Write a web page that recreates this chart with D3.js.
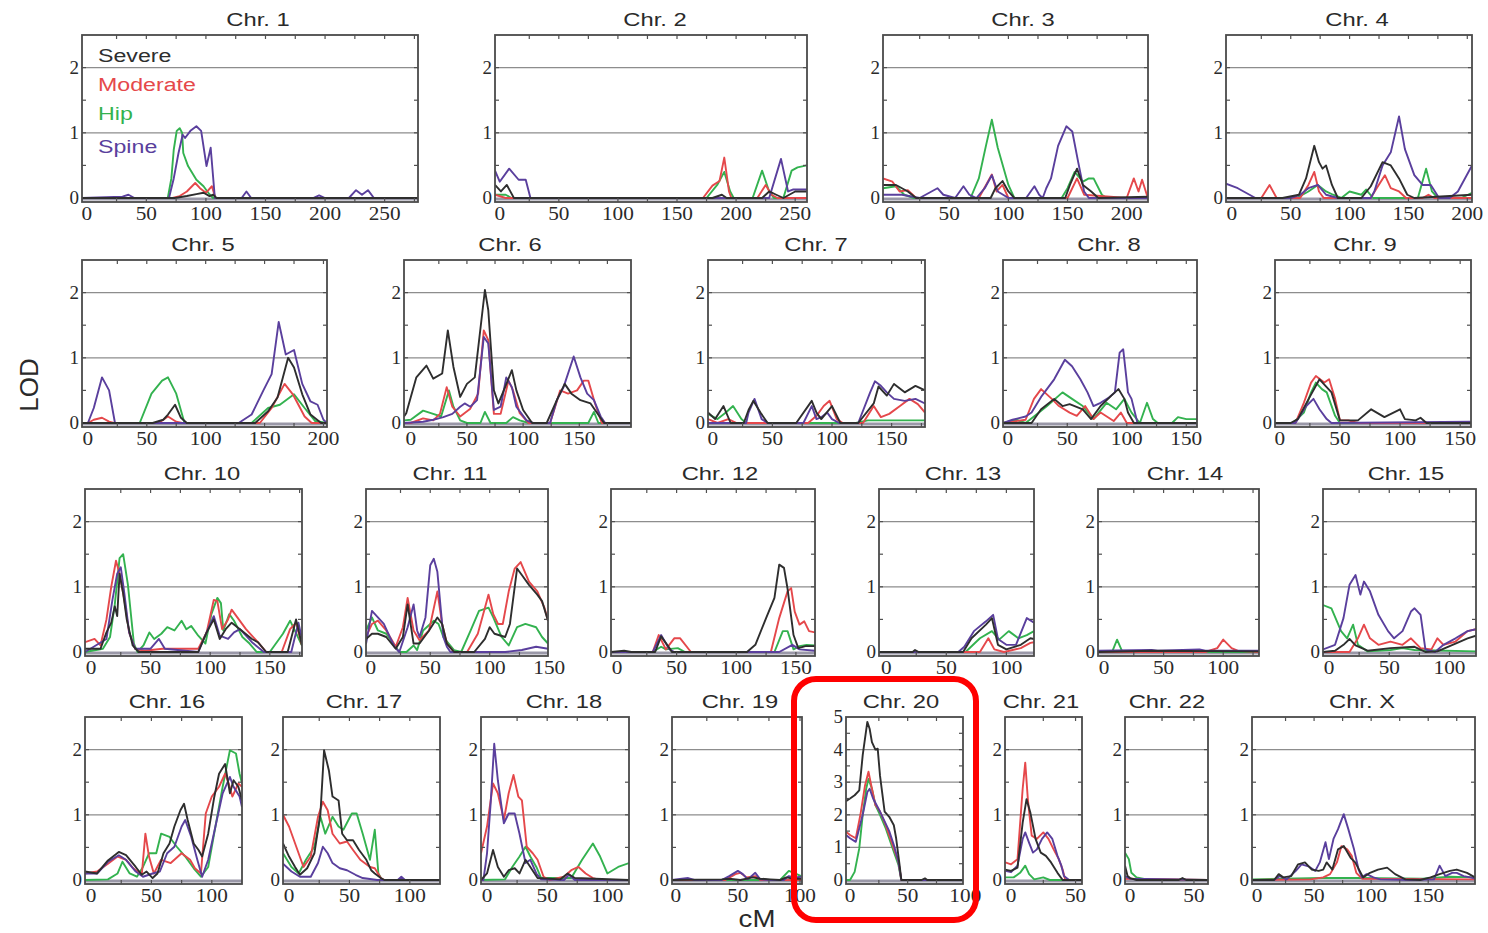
<!DOCTYPE html>
<html>
<head>
<meta charset="utf-8">
<script src="https://cdn.jsdelivr.net/npm/d3@7"></script>
<style>
  body { margin: 0; background: #fff; }
  svg { display: block; }
</style>
</head>
<body>
<div id="chart"></div>
<script>
// chromosome panels, axis extents in cM, LOD maximum of each panel
const chromosomes = ["1","2","3","4","5","6","7","8","9","10","11","12","13","14","15","16","17","18","19","20","21","22","X"];
const cmMin = [-4,-4,-6,-5,-5,-6,-4,-4,-4,-5,-4,-5,-6,-5,-5,-5,-5,-5,-3,-3.5,-4.7,-4,-4.4];
const cmMax = [278,260,218,204,203,196,178,159,159,177,149,166,123,130,122,125,125,118,101.6,98,55,61,191];
const lodMax = [2.5,2.5,2.5,2.5,2.5,2.5,2.5,2.5,2.5,2.5,2.5,2.5,2.5,2.5,2.5,2.5,2.5,2.5,2.5,5,2.5,2.5,2.5];

const seriesNames = ["Severe", "Moderate", "Hip", "Spine"];
const seriesColors = ["#2e2e2e", "#e5484b", "#33b24f", "#5a3f9d"];

// [cM, LOD] per chromosome
const severe = [
  [[-4,0],[74,0],[84,0.03],[92,0.06],[98,0.08],[103,0.03],[106,0.05],[109,0],[278,0]],
  [[-4,0.2],[1,0.1],[6,0.2],[12,0],[180,0],[188,0.05],[192,0],[222,0],[228,0.1],[234,0.05],[240,0],[250,0.1],[260,0.1]],
  [[-6,0.2],[5,0.2],[15,0.1],[22,0],[85,0],[89,0.15],[95,0.26],[100,0.1],[105,0],[148,0],[152,0.2],[158,0.45],[163,0.2],[170,0.1],[176,0],[218,0.02]],
  [[-5,0],[43,0],[57,0.05],[63,0.3],[70,0.8],[74,0.55],[77,0.45],[80,0.5],[85,0.2],[90,0],[110,0],[118,0.18],[128,0.55],[135,0.5],[142,0.3],[149,0.05],[155,0],[204,0.05]],
  [[-5,0],[55,0],[64,0.05],[68,0.13],[74,0.28],[79,0.08],[84,0],[142,0],[153,0.18],[161,0.39],[170,1.0],[175,0.85],[182,0.44],[189,0.13],[198,0],[203,0]],
  [[-6,0.1],[-4,0.15],[5,0.7],[14,0.88],[20,0.68],[28,0.76],[33,1.42],[38,0.86],[44,0.4],[50,0.6],[57,0.7],[66,2.04],[69,1.73],[74,0.5],[78,0.3],[84,0.55],[90,0.81],[94,0.5],[100,0.2],[108,0],[121,0],[130,0.35],[137,0.6],[143,0.45],[151,0.35],[160,0.3],[166,0.15],[172,0],[196,0]],
  [[-4,0.16],[2,0.06],[9,0.26],[15,0],[26,0],[30,0.2],[34,0.34],[40,0.16],[46,0],[70,0],[83,0.34],[87,0.16],[91,0.06],[100,0.26],[107,0],[122,0],[135,0.3],[139,0.56],[146,0.42],[152,0.6],[161,0.47],[170,0.57],[178,0.5]],
  [[-4,0],[20,0],[28,0.21],[39,0.37],[46,0.26],[52,0.29],[63,0.21],[70,0.06],[78,0.26],[87,0.42],[93,0.52],[98,0.37],[101,0.16],[106,0],[159,0]],
  [[-4,0],[9,0],[15,0.06],[24,0.37],[33,0.67],[38,0.57],[43,0.47],[50,0.04],[65,0.04],[76,0.21],[87,0.09],[100,0.21],[104,0.06],[113,0.04],[117,0.08],[122,0],[159,0]],
  [[-5,0.05],[8,0.05],[13,0.3],[17,0.45],[20,0.7],[22,0.55],[24,1.2],[27,0.9],[30,0.5],[35,0.1],[40,0],[90,0],[97,0.3],[103,0.5],[108,0.2],[113,0.35],[118,0.45],[125,0.35],[135,0.2],[140,0.15],[147,0],[165,0],[172,0.5],[177,0.1]],
  [[-4,0.2],[1,0.28],[6,0.28],[13,0.23],[21,0.05],[27,0.23],[31,0.73],[36,0.13],[41,0.13],[49,0.33],[56,0.53],[60,0.43],[64,0.13],[70,0],[87,0],[96,0.2],[100,0.38],[104,0.28],[113,0.23],[117,0.43],[123,1.28],[127,1.18],[133,1.03],[140,0.88],[144,0.78],[149,0.48]],
  [[-5,0],[6,0.02],[12,0],[32,0],[37,0.24],[44,0.06],[46,0],[109,0],[116,0.11],[125,0.52],[132,0.83],[136,1.34],[140,1.29],[143,0.97],[148,0.26],[152,0.06],[158,0.09],[166,0.09]],
  [[-6,0],[22,0],[24,0.03],[27,0],[64,0],[71,0.21],[83,0.42],[88,0.52],[93,0.11],[100,0.04],[112,0.11],[120,0.21],[123,0.2]],
  [[-5,0],[40,0.02],[130,0.01]],
  [[-5,0],[5,0.02],[12,0.11],[17,0.2],[22,0.1],[32,0.02],[51,0.06],[71,0.08],[80,0],[90,0.01],[105,0.13],[115,0.21],[122,0.25]],
  [[-5,0.13],[5,0.1],[14,0.3],[23,0.43],[29,0.38],[37,0.2],[42,0.08],[46,0.13],[51,0.03],[55,0.1],[60,0.41],[65,0.56],[69,0.82],[74,1.07],[77,1.17],[80,0.92],[85,0.56],[89,0.46],[92,0.36],[97,0.71],[102,1.27],[106,1.63],[111,1.78],[115,1.33],[118,1.53],[122,1.43],[125,1.22]],
  [[-5,0.56],[0,0.36],[5,0.2],[9,0.08],[15,0.18],[21,0.41],[26,1.02],[29,1.99],[33,1.68],[36,1.28],[41,1.22],[44,0.71],[48,0.61],[53,0.61],[58,0.46],[64,0.31],[68,0.15],[71,0.1],[76,0.03],[79,0],[125,0]],
  [[-5,0],[0,0.1],[5,0.46],[9,0.2],[14,0.05],[18,0.15],[23,0.18],[27,0.1],[32,0.31],[36,0.2],[42,0.03],[61,0.01],[67,0.1],[73,0.03],[118,0]],
  [[-3,0],[37,0.01],[43,0.02],[52,0],[62,0.04],[68,0.02],[76,0.01],[84,0],[89,0.04],[95,0.02],[101,0.02]],
  [[-3.5,2.42],[0,2.5],[4,2.6],[8,2.75],[11,3.83],[15,4.85],[17,4.64],[19,4.23],[22,4.0],[24,4.03],[26,3.2],[30,2.1],[34,1.94],[38,1.68],[40,1.28],[43,0.46],[44.5,0],[62,0],[65,0.05],[67,0],[98,0]],
  [[-4.5,0.16],[0,0.14],[5,0.19],[9,0.88],[12,1.24],[15,1.03],[19,0.63],[23,0.42],[27,0.37],[31,0.27],[36,0.11],[40,0],[55,0]],
  [[-4,0.22],[-2,0.06],[0,0.03],[5,0],[38,0],[41,0.03],[44,0],[61,0]],
  [[-4,0],[15,0],[19,0.09],[23,0.04],[30,0.06],[36,0.24],[42,0.27],[48,0.16],[54,0.14],[58,0.16],[61,0.27],[66,0.16],[71,0.47],[76,0.52],[82,0.34],[86,0.27],[93,0.04],[99,0.11],[106,0.16],[114,0.19],[121,0.09],[130,0.01],[143,0],[152,0.04],[160,0.09],[169,0.14],[175,0.16],[184,0.11],[191,0.04]]
];

const moderate = [
  [[-4,0],[72,0],[78,0.03],[84,0.1],[91,0.23],[95,0.15],[100,0.08],[105,0.18],[108,0],[278,0]],
  [[-4,0.05],[5,0],[172,0],[180,0.19],[186,0.26],[190,0.62],[194,0.1],[196,0],[218,0],[225,0.2],[230,0.05],[235,0],[260,0]],
  [[-6,0.3],[2,0.25],[8,0.1],[15,0.12],[22,0],[75,0],[86,0.36],[90,0.1],[95,0.2],[100,0],[150,0],[158,0.3],[164,0.05],[200,0],[206,0.3],[210,0.1],[213,0.28],[217,0.05],[218,0]],
  [[-5,0],[25,0],[32,0.2],[38,0],[58,0],[65,0.2],[70,0.4],[74,0.1],[78,0],[118,0],[123,0.15],[130,0.35],[135,0.15],[142,0.1],[148,0],[162,0],[167,0.05],[172,0],[204,0]],
  [[-5,0],[0,0],[5,0.05],[12,0.08],[18,0.02],[22,0],[60,0],[68,0.1],[75,0.02],[80,0],[146,0],[156,0.23],[167,0.6],[174,0.44],[184,0.1],[190,0],[203,0]],
  [[-6,0],[0,0],[11,0.07],[20,0.04],[26,0.14],[32,0.55],[37,0.25],[44,0.1],[53,0.22],[60,0.45],[65,1.42],[69,1.27],[74,0.14],[80,0.14],[87,0.65],[91,0.5],[97,0.15],[105,0],[124,0],[133,0.5],[140,0.45],[148,0.5],[154,0.65],[158,0.65],[164,0.3],[170,0],[196,0]],
  [[-4,0.06],[4,0],[13,0.06],[20,0],[80,0],[87,0.11],[93,0.26],[98,0.34],[104,0.06],[109,0],[126,0],[135,0.26],[141,0.09],[148,0.14],[157,0.26],[165,0.37],[172,0.29],[178,0.16]],
  [[-4,0],[15,0.05],[22,0.37],[28,0.52],[37,0.37],[43,0.26],[52,0.16],[58,0.11],[65,0.26],[72,0.06],[78,0.16],[89,0.03],[95,0.16],[100,0],[159,0]],
  [[-4,0],[13,0],[20,0.31],[26,0.62],[30,0.72],[37,0.62],[41,0.67],[46,0.37],[50,0.04],[57,0.04],[65,0],[159,0]],
  [[-5,0.15],[3,0.2],[8,0.1],[13,0.5],[17,1.0],[21,1.4],[24,1.2],[28,0.8],[32,0.3],[37,0.05],[45,0.02],[60,0.05],[75,0.05],[90,0.05],[97,0.3],[103,0.8],[106,0.78],[110,0.35],[115,0.5],[118,0.65],[124,0.5],[130,0.35],[140,0.15],[147,0],[160,0],[167,0.35],[172,0.45],[177,0.1]],
  [[-4,0.23],[1,0.43],[6,0.48],[13,0.33],[21,0.08],[27,0.38],[31,0.83],[36,0.33],[41,0.18],[49,0.33],[56,0.93],[60,0.43],[64,0.13],[70,0],[81,0],[90,0.28],[96,0.68],[99,0.88],[103,0.58],[107,0.43],[111,0.43],[116,0.93],[121,1.28],[126,1.38],[133,1.08],[140,0.93],[146,0.68],[149,0.48]],
  [[-5,0],[30,0],[35,0.26],[41,0.04],[48,0.21],[53,0.21],[62,0],[129,0],[136,0.52],[143,0.93],[146,0.98],[149,0.62],[153,0.42],[157,0.47],[161,0.32],[166,0.3]],
  [[-6,0],[78,0],[85,0.21],[90,0.04],[98,0],[112,0.06],[120,0.14],[123,0.15]],
  [[-5,0],[85,0],[95,0.06],[100,0.19],[107,0.06],[112,0.02],[130,0]],
  [[-5,0],[17,0],[24,0.21],[29,0.42],[34,0.21],[41,0.11],[51,0.16],[61,0.11],[68,0.21],[76,0.06],[85,0.04],[90,0.21],[95,0.11],[105,0.16],[115,0.32],[122,0.35]],
  [[-5,0.1],[5,0.13],[14,0.25],[22,0.36],[29,0.31],[35,0.18],[42,0.08],[45,0.71],[48,0.36],[52,0.1],[58,0.31],[66,0.26],[75,0.41],[82,0.31],[86,0.18],[91,0.1],[95,1.02],[100,1.28],[106,1.43],[111,1.63],[114,1.48],[117,1.28],[122,1.48],[125,1.43]],
  [[-5,1.0],[0,0.82],[6,0.51],[12,0.2],[18,0.36],[24,0.97],[28,1.2],[32,1.07],[36,0.71],[42,0.56],[48,0.59],[53,0.46],[59,0.31],[67,0.2],[71,0.18],[76,0.03],[79,0],[125,0]],
  [[-5,0.41],[0,0.82],[5,1.48],[9,1.33],[14,0.92],[18,1.33],[22,1.61],[26,1.28],[29,1.22],[33,0.51],[38,0.41],[42,0.31],[47,0.05],[52,0],[64,0.05],[70,0.15],[76,0.2],[82,0.1],[88,0.03],[94,0],[118,0]],
  [[-3,0],[40,0],[48,0.09],[52,0.11],[57,0.04],[64,0.06],[68,0],[101,0]],
  [[-3.5,1.48],[0,1.38],[5,1.28],[9,2.0],[13,2.9],[16,3.32],[19,2.8],[22,2.3],[26,2.1],[31,1.68],[36,1.17],[42,0.56],[44.5,0],[98,0]],
  [[-4.5,0.27],[0,0.24],[5,0.32],[9,1.4],[11,1.8],[13,1.24],[16,0.68],[20,0.63],[25,0.73],[29,0.63],[33,0.47],[37,0.32],[40,0.16],[42,0],[55,0]],
  [[-4,0.02],[61,0]],
  [[-4,0],[47,0.01],[58,0.04],[64,0.09],[70,0.27],[74,0.52],[79,0.47],[83,0.37],[87,0.11],[92,0.02],[191,0.01]]
];

const hip = [
  [[-4,0],[68,0],[71,0.3],[73,0.74],[75.5,1.03],[78,1.07],[80,1.0],[81,0.69],[85,0.49],[92,0.28],[98,0.18],[102,0.08],[106,0],[278,0]],
  [[-4,0.05],[5,0.05],[10,0],[175,0],[184,0.2],[190,0.4],[195,0.1],[198,0],[214,0],[222,0.42],[228,0.1],[232,0],[240,0],[247,0.42],[252,0.47],[260,0.5]],
  [[-6,0.15],[5,0.18],[12,0.05],[20,0],[68,0],[75,0.3],[81,0.8],[86,1.2],[91,0.77],[100,0.2],[105,0],[145,0],[150,0.15],[156,0.4],[163,0.25],[168,0.3],[172,0.3],[179,0.05],[183,0],[218,0]],
  [[-5,0],[55,0],[65,0.1],[73,0.2],[80,0.1],[86,0.05],[93,0],[100,0.1],[110,0.05],[114,0.13],[120,0],[158,0],[165,0.45],[170,0.1],[175,0],[195,0],[204,0.08]],
  [[-5,0],[44,0],[54,0.45],[63,0.65],[68,0.7],[75,0.45],[82,0],[139,0],[153,0.23],[163,0.28],[175,0.44],[184,0.23],[193,0.03],[203,0]],
  [[-6,0.04],[0,0.05],[11,0.19],[20,0.14],[27,0.1],[34,0.5],[38,0.25],[44,0.04],[50,0],[62,0],[66,0.17],[71,0],[85,0],[91,0.09],[97,0.04],[105,0],[158,0],[163,0.17],[167,0],[196,0]],
  [[-4,0.14],[4,0.06],[11,0.16],[17,0.26],[24,0.06],[28,0],[120,0],[130,0.04],[178,0.04]],
  [[-4,0],[7,0.05],[15,0],[22,0.1],[33,0.26],[46,0.47],[54,0.37],[63,0.26],[72,0.06],[83,0.31],[91,0.21],[98,0.37],[104,0.16],[111,0],[117,0.31],[122,0.06],[126,0],[138,0],[143,0.09],[150,0.06],[159,0.06]],
  [[-4,0],[11,0],[20,0.16],[26,0.47],[30,0.62],[35,0.52],[39,0.47],[46,0.11],[50,0],[159,0]],
  [[-5,0],[10,0.05],[16,0.23],[20,0.73],[24,1.44],[27,1.5],[31,1.03],[36,0.13],[39,0],[44,0.1],[49,0.3],[53,0.2],[59,0.28],[64,0.38],[70,0.33],[76,0.48],[80,0.35],[84,0.4],[90,0.25],[96,0.13],[101,0.58],[106,0.83],[109,0.75],[111,0.33],[116,0.58],[120,0.48],[127,0.23],[133,0.13],[139,0],[150,0],[161,0.28],[167,0.48],[177,0.1]],
  [[-4,0.33],[1,0.53],[6,0.33],[13,0.28],[19,0.13],[24,0],[30,0],[36,0.1],[39,0.03],[44,0.33],[53,0.48],[57,0.43],[61,0.23],[70,0.03],[76,0],[84,0.33],[91,0.63],[99,0.68],[103,0.53],[110,0.23],[116,0.1],[123,0.38],[130,0.43],[139,0.38],[144,0.23],[149,0.13]],
  [[-5,0],[30,0],[37,0.08],[41,0.04],[51,0.06],[57,0],[132,0],[139,0.32],[143,0.32],[148,0.04],[153,0.09],[159,0.11],[166,0.1]],
  [[-6,0],[66,0],[78,0.21],[88,0.32],[94,0.19],[102,0.32],[110,0.21],[117,0.26],[123,0.32]],
  [[-5,0],[7,0.01],[11,0.19],[15,0.02],[20,0],[130,0]],
  [[-5,0.72],[2,0.67],[10,0.32],[15,0.21],[20,0.42],[24,0.11],[32,0.01],[51,0.03],[61,0.06],[71,0.03],[122,0.01]],
  [[-5,0],[14,0.01],[22,0.1],[26,0.28],[32,0.1],[38,0.05],[43,0.2],[48,0.41],[54,0.41],[58,0.71],[65,0.66],[71,0.51],[78,0.36],[85,0.18],[91,0.05],[97,0.2],[103,0.82],[109,1.43],[115,1.99],[120,1.94],[123,1.63],[125,1.48]],
  [[-5,0.41],[2,0.2],[8,0.1],[14,0.31],[21,0.51],[26,0.97],[30,0.71],[36,0.97],[41,0.82],[45,0.77],[52,1.02],[56,1.02],[61,0.71],[67,0.31],[71,0.77],[74,0.1],[77,0],[125,0]],
  [[-5,0],[15,0.01],[21,0.2],[27,0.36],[32,0.51],[36,0.36],[41,0.2],[45,0.03],[70,0.03],[79,0.31],[88,0.56],[94,0.36],[100,0.1],[109,0.2],[118,0.26]],
  [[-3,0],[84,0],[91,0.14],[95,0.11],[101,0.06]],
  [[-3.5,0],[0,0],[4,0.25],[8,0.97],[11,2.0],[14,2.8],[16,3.1],[19,2.8],[22,2.3],[26,2.0],[31,1.58],[36,1.07],[42,0.46],[44.5,0],[98,0]],
  [[-4.5,0.04],[2,0.04],[7,0.11],[11,0.22],[14,0.09],[18,0.01],[25,0.04],[30,0],[55,0]],
  [[-4,0.42],[-1,0.32],[1,0.11],[5,0.04],[13,0.01],[61,0]],
  [[-4,0.01],[58,0.03],[87,0.03],[145,0.02],[169,0.05],[191,0.04]]
];

const spine = [
  [[-4,0],[30,0.02],[35,0.05],[40,0],[69,0],[73,0.3],[77,0.69],[80.5,0.97],[82.5,0.92],[87,1.03],[92,1.1],[96,1.03],[100.5,0.49],[104,0.77],[107.5,0],[130,0],[134,0.1],[138,0],[190,0],[195,0.04],[200,0],[220,0],[226,0.12],[231,0.05],[236,0.12],[241,0],[278,0]],
  [[-4,0.42],[0,0.25],[8,0.45],[16,0.28],[22,0.28],[26,0],[228,0],[238,0.6],[244,0.1],[248,0.13],[260,0.13]],
  [[-6,0.05],[10,0.05],[25,0],[35,0.1],[40,0.15],[45,0.05],[55,0],[62,0.18],[67,0.05],[73,0],[80,0.15],[86,0.35],[91,0.1],[100,0],[115,0],[122,0.18],[126,0.05],[129,0],[132,0.15],[136,0.3],[142,0.8],[149,1.1],[154,1.02],[159,0.55],[164,0.1],[168,0],[218,0]],
  [[-5,0.22],[5,0.15],[15,0.05],[20,0],[50,0],[58,0.05],[65,0.15],[73,0.2],[80,0.05],[90,0],[118,0],[121,0.1],[128,0.5],[135,0.7],[142,1.25],[147,0.75],[155,0.35],[162,0.2],[169,0.2],[176,0],[185,0],[192,0.1],[204,0.5]],
  [[-5,0],[0,0],[5,0.23],[12,0.7],[18,0.5],[23,0],[128,0],[139,0.13],[149,0.5],[156,0.75],[162,1.55],[168,1.05],[175,1.12],[182,0.6],[189,0.33],[195,0.28],[200,0.05],[203,0]],
  [[-6,0],[11,0.02],[20,0.05],[29,0.09],[37,0.14],[44,0.25],[48,0.3],[53,0.25],[59,0.35],[65,1.32],[69,1.22],[74,0.2],[80,0.25],[85,0.7],[90,0.55],[94,0.25],[103,0.04],[109,0],[124,0],[130,0.35],[136,0.55],[145,1.02],[151,0.7],[157,0.45],[163,0.35],[169,0.1],[173,0],[196,0]],
  [[-4,0],[28,0],[30,0.16],[35,0.37],[41,0.06],[46,0],[76,0],[83,0.26],[87,0.06],[91,0.09],[96,0.16],[100,0.06],[106,0],[122,0],[132,0.47],[136,0.64],[141,0.57],[146,0.47],[152,0.37],[161,0.34],[170,0.37],[178,0.3]],
  [[-4,0],[4,0.05],[15,0.1],[20,0.16],[28,0.4],[39,0.67],[48,0.97],[54,0.87],[61,0.67],[67,0.47],[72,0.26],[78,0.31],[85,0.39],[90,0.47],[94,1.08],[97,1.13],[101,0.47],[104,0.37],[109,0],[159,0]],
  [[-4,0],[13,0],[22,0.26],[28,0.37],[33,0.21],[39,0.06],[43,0],[159,0.02]],
  [[-5,0],[13,0.2],[18,0.8],[22,1.2],[25,1.3],[28,0.9],[32,0.3],[37,0.05],[50,0.05],[57,0.2],[62,0.05],[90,0],[97,0.3],[103,0.55],[108,0.25],[115,0.2],[120,0.3],[125,0.35],[135,0.15],[145,0],[168,0],[174,0.45],[177,0.2]],
  [[-4,0.12],[1,0.63],[6,0.53],[11,0.43],[16,0.23],[20,0.08],[24,0],[31,0.38],[36,0.73],[39,0.33],[41,0.23],[46,0.53],[50,1.33],[53,1.43],[56,1.23],[59,0.63],[61,0.23],[64,0.08],[67,0],[113,0],[127,0.03],[139,0.08],[149,0.05]],
  [[-5,0],[30,0],[37,0.26],[44,0.04],[48,0],[136,0],[147,0.11],[153,0.04],[166,0.02]],
  [[-6,0],[60,0],[65,0.08],[73,0.32],[83,0.47],[89,0.57],[93,0.2],[100,0.11],[108,0.11],[117,0.52],[123,0.45]],
  [[-5,0.02],[40,0.03],[45,0.02],[80,0.04],[85,0.02],[130,0.02]],
  [[-5,0.04],[5,0.11],[12,0.52],[17,1.03],[22,1.18],[26,0.88],[29,1.08],[34,0.93],[41,0.57],[49,0.32],[54,0.21],[61,0.32],[68,0.62],[71,0.67],[76,0.57],[80,0.04],[88,0],[95,0.11],[105,0.21],[115,0.32],[122,0.35]],
  [[-5,0.1],[5,0.1],[14,0.28],[23,0.38],[29,0.31],[37,0.13],[43,0.05],[51,0.1],[57,0.13],[63,0.41],[69,0.51],[75,0.82],[78,0.92],[83,0.66],[88,0.31],[92,0.05],[97,0.31],[103,0.82],[109,1.33],[115,1.58],[118,1.43],[123,1.28],[125,1.12]],
  [[-5,0.25],[2,0.13],[9,0.05],[18,0.05],[24,0.26],[28,0.51],[32,0.41],[36,0.26],[42,0.18],[48,0.15],[55,0.08],[61,0.03],[73,0],[90,0],[93,0.05],[96,0],[125,0]],
  [[-5,0],[-3,0],[0,0.41],[3,1.17],[6,2.09],[9,1.53],[14,0.87],[18,1.02],[23,1.02],[27,0.71],[32,0.26],[36,0.31],[41,0.1],[45,0.01],[64,0],[68,0.08],[73,0],[118,0]],
  [[-3,0],[5,0.02],[10,0.03],[15,0],[37,0],[43,0.06],[50,0.14],[54,0.09],[58,0.01],[64,0.11],[68,0.01],[75,0],[87,0],[91,0.06],[96,0.04],[101,0.05]],
  [[-3.5,1.38],[0,1.28],[5,1.17],[11,2.0],[15,2.7],[17,2.8],[20,2.5],[23,2.3],[26,2.1],[30,1.8],[34,1.5],[38,1.07],[42,0.56],[44.5,0],[98,0]],
  [[-4.5,0.14],[0,0.12],[5,0.22],[9,0.63],[11,0.73],[14,0.57],[17,0.42],[20,0.47],[24,0.63],[28,0.73],[32,0.63],[36,0.37],[39,0.22],[41,0.06],[45,0],[55,0]],
  [[-4,0.06],[0,0.02],[61,0]],
  [[-4,0],[15,0],[20,0.06],[26,0.01],[34,0.14],[39,0.24],[45,0.21],[51,0.14],[55,0.27],[60,0.58],[63,0.32],[67,0.63],[71,0.78],[76,1.01],[80,0.78],[85,0.47],[89,0.16],[92,0.04],[96,0.09],[102,0.04],[108,0.01],[134,0],[155,0.01],[160,0.22],[165,0.06],[171,0.11],[175,0.11],[181,0.06],[187,0.04],[191,0.02]]
];

const allSeries = [severe, moderate, hip, spine];

// layout (pixels): rows, panel boxes and title centres
const rowTop = [35, 260, 489, 717];
const rowZero = [198, 423, 652, 880];
const panelRow = [0,0,0,0, 1,1,1,1,1, 2,2,2,2,2,2, 3,3,3,3,3,3,3,3];
const panelLeft = [82,495,883,1226, 82,404,708,1003,1275, 85,366,611,879,1098,1323, 85,283,481,672,846,1005,1125,1252];
const panelRight = [418,807,1148,1472, 327,631,925,1197,1471, 302,548,815,1034,1259,1476, 242,440,629,802,963,1082,1208,1475];
const titleX = [258,655,1023,1357, 203,510,816,1109,1365, 202,450,720,963,1185,1406, 167,364,564,740,901,1041,1167,1362];

const W = 1488, H = 933;
const svg = d3.select("#chart").append("svg")
    .attr("width", W)
    .attr("height", H)
    .attr("viewBox", `0 0 ${W} ${H}`);

const defs = svg.append("defs");
const sans = "'Liberation Sans', Arial, sans-serif";
const serif = "'Liberation Serif', 'Times New Roman', serif";

chromosomes.forEach((chr, i) => {
    const r = panelRow[i];
    const left = panelLeft[i], right = panelRight[i];
    const top = rowTop[r], zero = rowZero[r], bottom = zero + 4;

    const x = d3.scaleLinear().domain([cmMin[i], cmMax[i]]).range([left, right]);
    const y = d3.scaleLinear().domain([0, lodMax[i]]).range([zero, top]);

    const g = svg.append("g").attr("class", "panel");

    defs.append("clipPath").attr("id", "clip" + i)
        .append("rect")
        .attr("x", left).attr("y", top)
        .attr("width", right - left).attr("height", bottom - top);

    // grid lines at whole LOD
    const gridVals = d3.range(1, Math.floor(lodMax[i]) + 1).filter(v => v < lodMax[i]);
    g.selectAll("line.grid")
        .data(gridVals)
        .enter().append("line")
        .attr("x1", left).attr("x2", right)
        .attr("y1", d => y(d)).attr("y2", d => y(d))
        .attr("stroke", "#8d8d8d")
        .attr("stroke-width", 1.3);

    // baseline band
    g.append("line")
        .attr("x1", left).attr("x2", right)
        .attr("y1", y(0) + 1).attr("y2", y(0) + 1)
        .attr("stroke", "#9a98a8")
        .attr("stroke-width", 3);

    // curves
    const line = d3.line()
        .x(d => x(d[0]))
        .y(d => y(d[1]));

    const curves = g.append("g").attr("clip-path", `url(#clip${i})`);
    [2, 1, 3, 0].forEach(s => {
        curves.append("path")
            .datum(allSeries[s][i])
            .attr("d", line)
            .attr("fill", "none")
            .attr("stroke", seriesColors[s])
            .attr("stroke-width", 1.9)
            .attr("stroke-linejoin", "round");
    });

    // frame
    g.append("rect")
        .attr("x", left).attr("y", top)
        .attr("width", right - left).attr("height", bottom - top)
        .attr("fill", "none")
        .attr("stroke", "#4a4a4a")
        .attr("stroke-width", 1.8);

    // y minor ticks at every 0.5, on both sides
    const yTicks = d3.range(0.5, lodMax[i], 0.5);
    g.selectAll("line.yt")
        .data(yTicks)
        .enter().append("line")
        .attr("x1", left).attr("x2", left + 4)
        .attr("y1", d => y(d)).attr("y2", d => y(d))
        .attr("stroke", "#505050").attr("stroke-width", 1.2);
    g.selectAll("line.yt2")
        .data(yTicks)
        .enter().append("line")
        .attr("x1", right - 4).attr("x2", right)
        .attr("y1", d => y(d)).attr("y2", d => y(d))
        .attr("stroke", "#505050").attr("stroke-width", 1.2);

    // y labels
    g.selectAll("text.ylab")
        .data(d3.range(0, Math.floor(lodMax[i]) + 1))
        .enter().append("text")
        .attr("x", left - 3)
        .attr("y", d => y(d) + 6)
        .attr("text-anchor", "end")
        .attr("font-family", serif)
        .attr("font-size", 19)
        .attr("fill", "#2a2a2a")
        .text(d => d);

    // x ticks on top and bottom every 25 cM
    const xMinor = d3.range(25, cmMax[i], 25);
    g.selectAll("line.xt")
        .data(xMinor)
        .enter().append("line")
        .attr("x1", d => x(d)).attr("x2", d => x(d))
        .attr("y1", top).attr("y2", top + 4)
        .attr("stroke", "#505050").attr("stroke-width", 1.2);
    g.selectAll("line.xb")
        .data(xMinor)
        .enter().append("line")
        .attr("x1", d => x(d)).attr("x2", d => x(d))
        .attr("y1", bottom - 4).attr("y2", bottom)
        .attr("stroke", "#505050").attr("stroke-width", 1.2);

    // x labels every 50 cM
    const xLabels = d3.range(0, cmMax[i] + 3, 50);
    g.selectAll("text.xlab")
        .data(xLabels)
        .enter().append("text")
        .attr("transform", d => `translate(${x(d)},${zero + 22}) scale(1.12,1)`)
        .attr("text-anchor", "middle")
        .attr("font-family", serif)
        .attr("font-size", 19)
        .attr("fill", "#2a2a2a")
        .text(d => d);

    // title
    g.append("text")
        .attr("transform", `translate(${titleX[i]},${top - 9}) scale(1.25,1)`)
        .attr("text-anchor", "middle")
        .attr("font-family", sans)
        .attr("font-size", 19)
        .attr("fill", "#2a2a2a")
        .text("Chr. " + chr);
});

// legend inside chromosome 1
const legendY = [62, 91, 120, 153];
seriesNames.forEach((name, s) => {
    svg.append("text")
        .attr("transform", `translate(98,${legendY[s]}) scale(1.22,1)`)
        .attr("font-family", sans)
        .attr("font-size", 19)
        .attr("fill", seriesColors[s])
        .text(name);
});

// axis titles
svg.append("text")
    .attr("transform", "translate(38,385) rotate(-90)")
    .attr("text-anchor", "middle")
    .attr("font-family", sans)
    .attr("font-size", 26)
    .attr("fill", "#2a2a2a")
    .text("LOD");

svg.append("text")
    .attr("transform", "translate(757,927) scale(1.2,1)")
    .attr("text-anchor", "middle")
    .attr("font-family", sans)
    .attr("font-size", 23)
    .attr("fill", "#2a2a2a")
    .text("cM");

// highlight around chromosome 20
svg.append("rect")
    .attr("x", 794).attr("y", 679)
    .attr("width", 182).attr("height", 241)
    .attr("rx", 22).attr("ry", 22)
    .attr("fill", "none")
    .attr("stroke", "#ff0000")
    .attr("stroke-width", 6);
</script>
</body>
</html>
